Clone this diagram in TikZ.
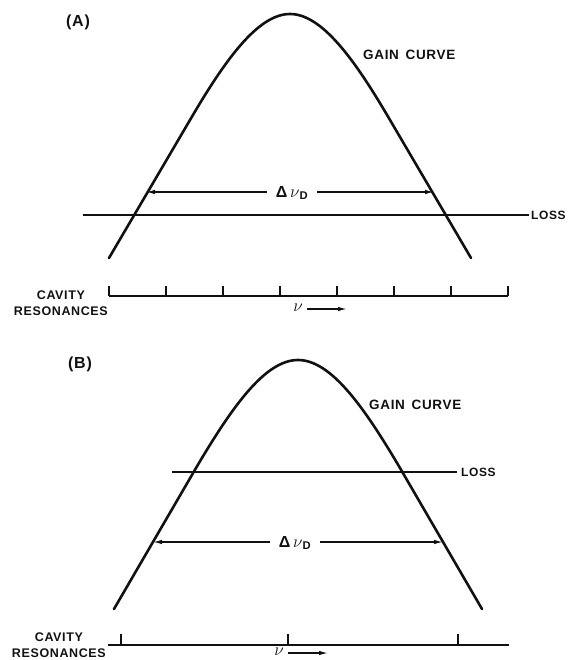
\documentclass[tikz,border=0pt]{standalone}
\usepackage{fontspec}
\setsansfont{Liberation Sans}[LetterSpace=5]
\usetikzlibrary{arrows.meta}

\begin{document}
\begin{tikzpicture}[x=1pt, y=-1pt, >={Latex[length=9pt,width=4.5pt]}, font=\sffamily\bfseries\fontsize{13.5}{16}\selectfont]
\definecolor{ink}{HTML}{111111}
\tikzset{gain/.style={ink, line width=2.6pt, line join=round, line cap=round},
  loss/.style={ink, line width=1.1pt},
  width/.style={->, ink, line width=1.3pt},
  axis/.style={ink, line width=1.8pt},
  lbl/.style={inner sep=0pt, text=ink},
  small/.style={font=\sffamily\bfseries\fontsize{12}{15.5}\selectfont},
  cav/.style={lbl, anchor=east, align=center, font=\sffamily\bfseries\fontsize{12.5}{15.5}\selectfont},
  big/.style={font=\sffamily\bfseries\fontsize{16}{18}\selectfont}}
\useasboundingbox (0,0) rectangle (569,660);
% (A)
\node[lbl, big] (tagA) at (78,22) {(A)};
\draw[gain] (109,258) -- (190,120) .. controls (225,60) and (258,14) .. (290,14) .. controls (322,14) and (355,60) .. (390,120) -- (471,258);
\node[lbl, anchor=west] (gainA) at (363,55) {GAIN\, CURVE};
\coordinate (lossA0) at (83,215);
\node[lbl, small, anchor=west, inner xsep=2pt] (lossA) at (529,215) {LOSS};
\draw[loss] (lossA0) -- (lossA.west);
\node[lbl, big, inner xsep=9pt] (dA) at (292,193) {Δ\,$\nu$\textsubscript{D}};
\coordinate (tipAl) at (146,192);
\coordinate (tipAr) at (434,192);
\draw[width] (dA.west |- tipAl) -- (tipAl);
\draw[width] (dA.east |- tipAr) -- (tipAr);
\node[cav] (cavA) at (108,303) {CAVITY\\RESONANCES};
\draw[axis] (109,296) -- (508,296);
\foreach \i in {0,...,7}{\draw[axis] ({109+57*\i},296) -- ++(0,-10);}
\node[lbl, big, inner xsep=4pt] (nuA) at (298,308) {$\nu$};
\coordinate (nuAe) at (347,309);
\draw[width] (nuA.east |- nuAe) -- (nuAe);
% (B)
\node[lbl, big] (tagB) at (80,364) {(B)};
\draw[gain] (114,609) -- (196,468) .. controls (232,407) and (265,360) .. (298,360) .. controls (331,360) and (364,407) .. (400,468) -- (482,609);
\node[lbl, anchor=west] (gainB) at (369,405) {GAIN\, CURVE};
\coordinate (lossB0) at (172,472);
\node[lbl, small, anchor=west, inner xsep=4pt] (lossB) at (457,472) {LOSS};
\draw[loss] (lossB0) -- (lossB.west);
\node[lbl, big, inner xsep=9pt] (dB) at (295,543) {Δ\,$\nu$\textsubscript{D}};
\coordinate (tipBl) at (153,542);
\coordinate (tipBr) at (443,542);
\draw[width] (dB.west |- tipBl) -- (tipBl);
\draw[width] (dB.east |- tipBr) -- (tipBr);
\node[cav] (cavB) at (106,645) {CAVITY\\RESONANCES};
\draw[axis] (108,645) -- (509,645);
\foreach \x in {121,288,458}{\draw[axis] (\x,645) -- ++(0,-11);}
\node[lbl, big, inner xsep=4pt] (nuB) at (279,652) {$\nu$};
\coordinate (nuBe) at (328,653);
\draw[width] (nuB.east |- nuBe) -- (nuBe);
\end{tikzpicture}
\end{document}
